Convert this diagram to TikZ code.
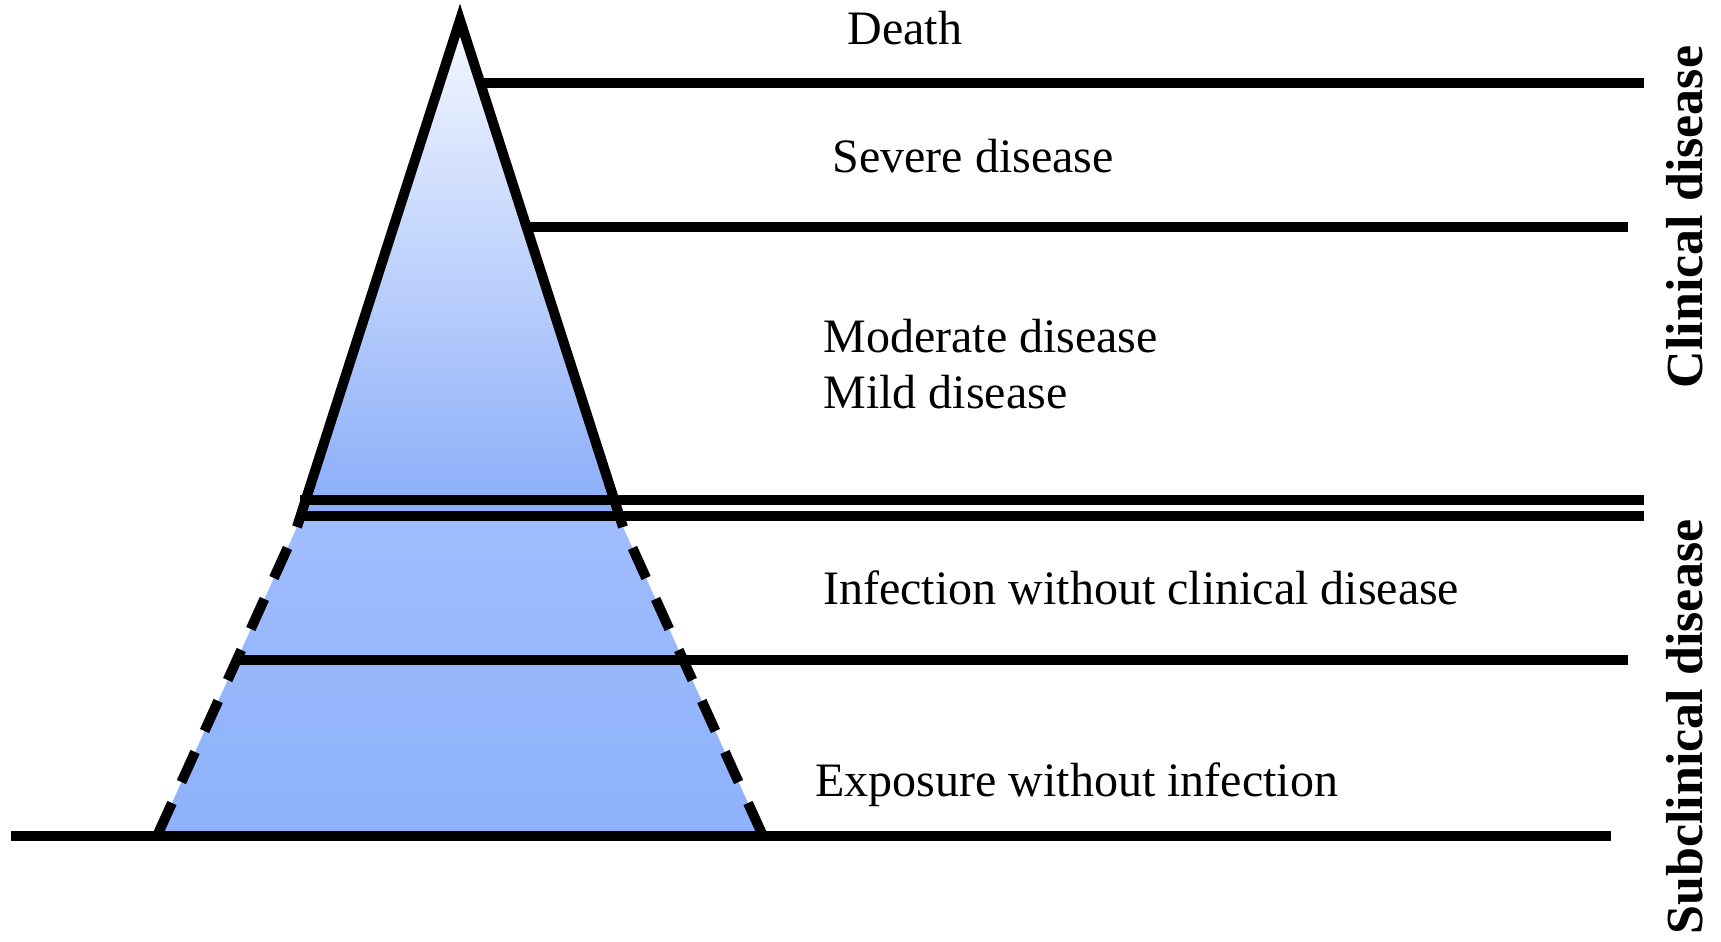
\documentclass[tikz,border=0pt]{standalone}
\usepackage{fontspec}
\setmainfont{Liberation Serif}
\definecolor{tipblue}{HTML}{F4F7FF}
\definecolor{upperblue}{HTML}{86ABF9}
\definecolor{midblue}{HTML}{A0BDFE}
\definecolor{baseblue}{HTML}{8DB1FB}

\begin{document}
\begin{tikzpicture}[x=0.5pt, y=-0.5pt,
bar/.style={line width=5pt},
dashbar/.style={line width=5pt, dash pattern=on 16.5pt off 11.5pt, dash phase=16.5pt},
stagetext/.style={anchor=base west, inner sep=0pt, font=\fontsize{24pt}{29pt}\selectfont},
sidetext/.style={rotate=90, anchor=base, inner sep=0pt, font=\fontsize{26pt}{31pt}\selectfont\bfseries}]
\useasboundingbox (0,0) rectangle (1721,942);
\coordinate (apex) at (460,20);
\coordinate (tl) at (297,527);
\coordinate (tr) at (623,527);
\coordinate (bl) at (157,836);
\coordinate (br) at (763,836);
\shade[top color=tipblue, bottom color=upperblue] (apex) -- (tl) -- (tr) -- cycle;
\shade[top color=midblue, bottom color=baseblue] (302,516) -- (618,516) -- (br) -- (bl) -- cycle;
\draw[bar] (tl) -- (apex) -- (tr);
\draw[dashbar] (tl) -- (bl);
\draw[dashbar] (tr) -- (br);
\draw[bar] (477,83) -- (1644,83);
\draw[bar] (528,227) -- (1628,227);
\draw[bar] (300,500) -- (1644,500);
\draw[bar] (300,516) -- (1644,516);
\draw[bar] (236,660) -- (1628,660);
\draw[bar] (11,836) -- (1611,836);
\node[stagetext] (death) at (847,44) {Death};
\node[stagetext] (severe) at (832,172) {Severe disease};
\node[stagetext] (moderate) at (823,352) {Moderate disease};
\node[stagetext] (mild) at (823,408) {Mild disease};
\node[stagetext] (infection) at (823,604) {Infection without clinical disease};
\node[stagetext] (exposure) at (815,796) {Exposure without infection};
\node[sidetext] (clinical) at (1702,217) {Clinical disease};
\node[sidetext] (subclinical) at (1702,727) {Subclinical disease};
\end{tikzpicture}
\end{document}
